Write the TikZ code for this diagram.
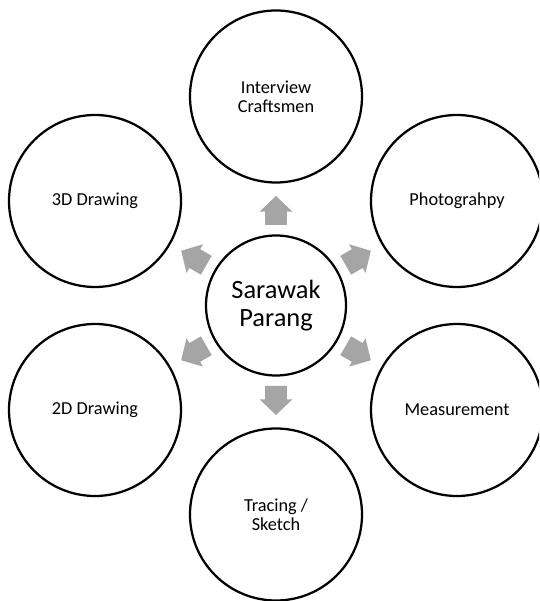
\documentclass[tikz,border=0pt]{standalone}
\usepackage{fontspec}
\setmainfont{Carlito}
\usetikzlibrary{calc}
\definecolor{arrowgray}{HTML}{A5A5A5}
\tikzset{
  outer/.style={circle, draw=black, line width=2.25pt, fill=white, minimum size=172pt, inner sep=0pt, align=center, font=\fontsize{18.3}{19.4}\selectfont},
  hub/.style={circle, draw=black, line width=2.25pt, fill=white, minimum size=140pt, inner sep=0pt, align=center, font=\fontsize{26.4}{28.4}\selectfont},
  blockarrow/.style={fill=arrowgray}
}
\newcommand{\blockarr}[1]{%
  \begin{scope}[shift={(c)}, rotate=#1]
    \fill[blockarrow] (80.5pt,-10.85pt) -- (93.8pt,-10.85pt) -- (93.8pt,-16.5pt) -- (109.5pt,0pt) -- (93.8pt,16.5pt) -- (93.8pt,10.85pt) -- (80.5pt,10.85pt) -- cycle;
  \end{scope}}
\begin{document}
\begin{tikzpicture}
\useasboundingbox (0,0) rectangle (539pt,601pt);
\clip (0,0) rectangle (539pt,601pt);
\node[hub] (c) at (276pt,295.5pt) {Sarawak\\Parang};
\node[outer] (o1) at ($(c)+(90:209pt)$) {Interview\\Craftsmen};
\node[outer] (o2) at ($(c)+(30:209pt)$) {Photograhpy};
\node[outer] (o3) at ($(c)+(-30:209pt)$) {Measurement};
\node[outer] (o4) at ($(c)+(-90:209pt)$) {Tracing /\\Sketch};
\node[outer] (o5) at ($(c)+(-150:209pt)$) {2D Drawing};
\node[outer] (o6) at ($(c)+(150:209pt)$) {3D Drawing};
\blockarr{90}
\blockarr{30}
\blockarr{-30}
\blockarr{-90}
\blockarr{-150}
\blockarr{150}
\end{tikzpicture}
\end{document}
